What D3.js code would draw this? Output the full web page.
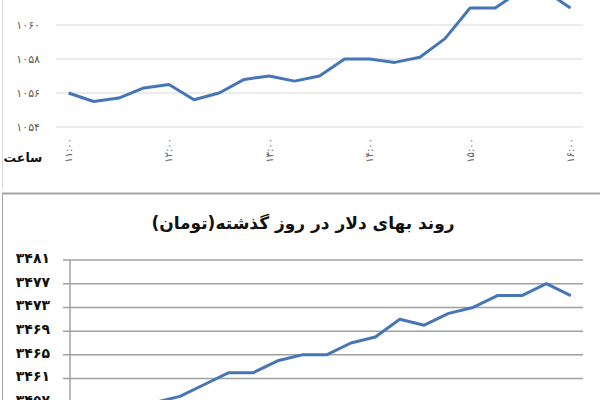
<!DOCTYPE html>
<html>
<head>
<meta charset="utf-8">
<script src="https://cdn.jsdelivr.net/npm/d3@7"></script>
<style>
  body { margin: 0; background: #fff; }
  svg { display: block; font-family: "DejaVu Sans", sans-serif; }
</style>
</head>
<body>
<svg id="chart" width="600" height="400"></svg>
<script>
// 15-minute steps, 11:00 to 16:00
const times = ["11:00","11:15","11:30","11:45","12:00","12:15","12:30","12:45",
  "13:00","13:15","13:30","13:45","14:00","14:15","14:30","14:45",
  "15:00","15:15","15:30","15:45","16:00"];

// top chart (cut off above)
const topValues = [1056, 1055.5, 1055.7, 1056.3, 1056.5, 1055.6, 1056, 1056.8,
  1057, 1056.7, 1057, 1058, 1058, 1057.8, 1058.1, 1059.2,
  1061, 1061, 1062, 1062, 1061];
const topTicks = [1054, 1056, 1058, 1060];
const topTimeLabels = ["11:00", "12:00", "13:00", "14:00", "15:00", "16:00"];

// bottom chart: dollar rate in toman
const dollarValues = [3456, 3456, 3456, 3457, 3458, 3460, 3462, 3462,
  3464, 3465, 3465, 3467, 3468, 3471, 3470, 3472,
  3473, 3475, 3475, 3477, 3475];
const dollarTicks = [3457, 3461, 3465, 3469, 3473, 3477, 3481];

const title = "روند بهای دلار در روز گذشته(تومان)";
const hourLabel = "ساعت";

const faDigits = "۰۱۲۳۴۵۶۷۸۹";
const fa = s => String(s).replace(/\d/g, d => faDigits[+d]);

const lineColor = "#4676b6";
const svg = d3.select("#chart");

// ---- top panel ----
const xTop = d3.scalePoint(times, [56, 583]).padding(0.5);
const yTop = d3.scaleLinear([1054, 1060], [127, 25]);

svg.append("line")
    .attr("x1", 2.5).attr("x2", 2.5).attr("y1", 0).attr("y2", 189)
    .attr("stroke", "#d8d8d8");

svg.append("g")
  .selectAll("line")
  .data(topTicks)
  .join("line")
    .attr("x1", 56).attr("x2", 583)
    .attr("y1", d => yTop(d)).attr("y2", d => yTop(d))
    .attr("stroke", "#d9d9d9");

svg.append("g")
  .selectAll("text")
  .data(topTicks)
  .join("text")
    .attr("x", 40)
    .attr("y", d => yTop(d))
    .attr("dy", "0.35em")
    .attr("text-anchor", "end")
    .attr("font-size", 11)
    .attr("letter-spacing", 1.5)
    .attr("fill", "#595959")
    .text(d => fa(d));

svg.append("g")
  .selectAll("text")
  .data(topTimeLabels)
  .join("text")
    .attr("transform", d => `translate(${xTop(d)},138) rotate(-90)`)
    .attr("dy", "0.35em")
    .attr("text-anchor", "end")
    .attr("font-size", 10)
    .attr("letter-spacing", 2)
    .attr("fill", "#595959")
    .text(d => fa(d));

svg.append("text")
    .attr("x", 23).attr("y", 158)
    .attr("dy", "0.35em")
    .attr("text-anchor", "middle")
    .attr("font-size", 12.5)
    .attr("font-weight", "bold")
    .attr("fill", "#111")
    .text(hourLabel);

svg.append("path")
    .datum(topValues)
    .attr("fill", "none")
    .attr("stroke", lineColor)
    .attr("stroke-width", 3)
    .attr("stroke-linejoin", "round")
    .attr("d", d3.line((d, i) => xTop(times[i]), d => yTop(d)));

// ---- bottom panel ----
const xBot = d3.scalePoint(times, [70, 583]).padding(0.5);
const yBot = d3.scaleLinear([3457, 3481], [402.3, 260]);

svg.append("line")
    .attr("x1", 2).attr("x2", 600).attr("y1", 193.5).attr("y2", 193.5)
    .attr("stroke", "#a6a6a6").attr("stroke-width", 2);
svg.append("line")
    .attr("x1", 2.5).attr("x2", 2.5).attr("y1", 193).attr("y2", 400)
    .attr("stroke", "#a6a6a6");

svg.append("text")
    .attr("x", 303).attr("y", 223)
    .attr("dy", "0.35em")
    .attr("text-anchor", "middle")
    .attr("direction", "rtl")
    .attr("font-size", 17)
    .attr("font-weight", "bold")
    .attr("fill", "#111")
    .text(title);

svg.append("g")
  .selectAll("line")
  .data(dollarTicks)
  .join("line")
    .attr("x1", 63).attr("x2", 583)
    .attr("y1", d => yBot(d)).attr("y2", d => yBot(d))
    .attr("stroke", "#a0a0a0").attr("stroke-width", 1.5);

svg.append("line")
    .attr("x1", 70).attr("x2", 70).attr("y1", yBot(3481)).attr("y2", 400)
    .attr("stroke", "#a0a0a0").attr("stroke-width", 1.5);

svg.append("g")
  .selectAll("text")
  .data(dollarTicks)
  .join("text")
    .attr("x", 50)
    .attr("y", d => yBot(d) - 2)
    .attr("dy", "0.35em")
    .attr("text-anchor", "end")
    .attr("font-size", 14)
    .attr("font-weight", "bold")
    .attr("fill", "#111")
    .text(d => fa(d));

svg.append("path")
    .datum(dollarValues)
    .attr("fill", "none")
    .attr("stroke", lineColor)
    .attr("stroke-width", 3)
    .attr("stroke-linejoin", "round")
    .attr("d", d3.line((d, i) => xBot(times[i]), d => yBot(d)));
</script>
</body>
</html>
